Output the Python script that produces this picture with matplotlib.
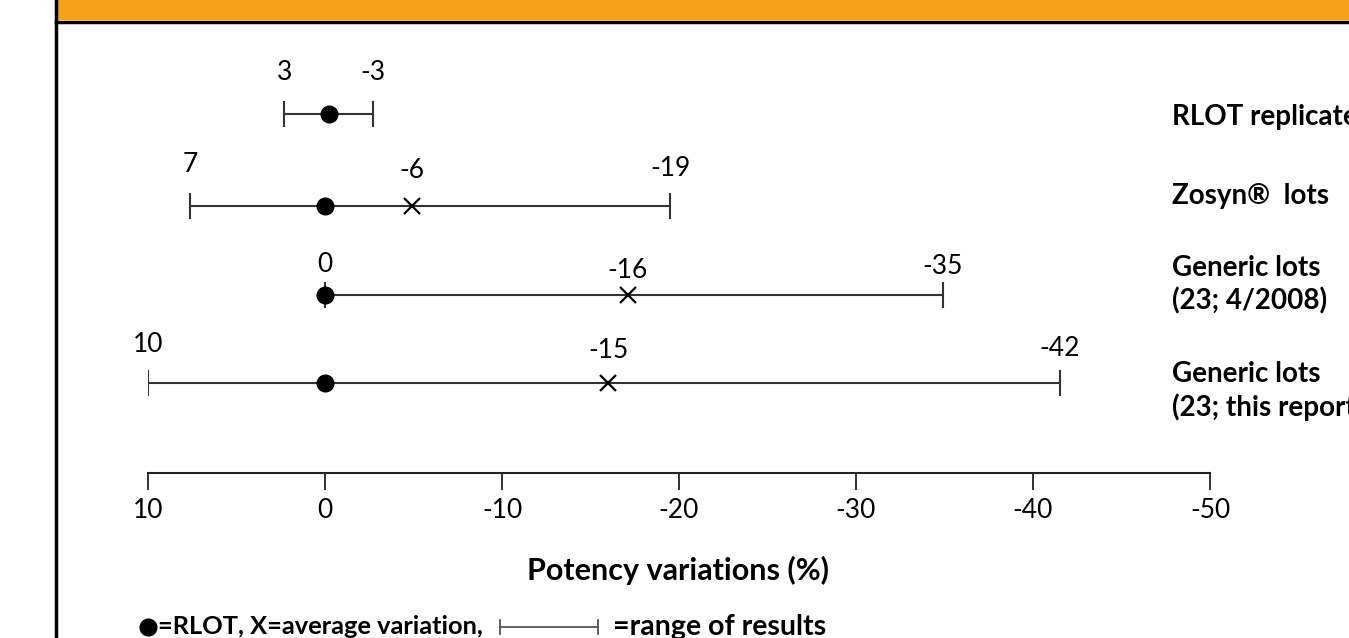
import matplotlib.pyplot as plt
from matplotlib.lines import Line2D
from matplotlib.patches import Rectangle

plt.rcParams['font.family'] = ['Lato', 'DejaVu Sans']

# values (drawn positions, % potency variation)
groups = ['RLOT replicates', 'Zosyn\u00ae  lots', 'Generic lots\n(23; 4/2008)', 'Generic lots\n(23; this report)']
low = [2.3, 7.6, 0.0, 10.0]
high = [-2.7, -19.5, -34.9, -41.5]
rlot = [-0.2, 0.0, 0.0, 0.0]
avg = [None, -4.9, -17.1, -16.0]
# printed numbers above each range
low_txt = ['3', '7', '0', '10']
avg_txt = [None, '-6', '-16', '-15']
high_txt = ['-3', '-19', '-35', '-42']
xticks = [10, 0, -10, -20, -30, -40, -50]

W, H = 1349, 638
fig = plt.figure(figsize=(W / 100, H / 100), dpi=100)

# frame: orange header band + black borders
fig.patches.append(Rectangle((57 / W, 1 - 20 / H), 1, 20 / H, transform=fig.transFigure,
                             facecolor='#F5A11A', edgecolor='none', zorder=0))
fig.lines.append(Line2D([56 / W, 1], [1 - 21.5 / H] * 2, transform=fig.transFigure, color='black', lw=2.5))
fig.lines.append(Line2D([56 / W] * 2, [0, 1], transform=fig.transFigure, color='black', lw=2.5))

# axes: x in data units, y in pixel rows (top = 22, axis line = 473)
ax = fig.add_axes([148 / W, 1 - 473 / H, (1210 - 148) / W, (473 - 22) / H])
ax.set_xlim(10, -50)
ax.set_ylim(473, 22)
ax.patch.set_alpha(0)
for s in ['top', 'right', 'left']:
    ax.spines[s].set_visible(False)
ax.spines['bottom'].set_linewidth(1.5)
ax.spines['bottom'].set_color('#222222')
ax.set_yticks([])
ax.set_xticks(xticks)
ax.set_xticklabels([str(t) for t in xticks], fontsize=19)
ax.tick_params(axis='x', direction='out', length=12, width=1.3, color='#222222', pad=6)
fig.text(678 / W, 1 - 570 / H, 'Potency variations (%)', fontsize=22, fontweight='bold',
         ha='center', va='center')

rows_y = [114, 206, 295, 383]
low_y = [73, 165, 265, 345]
avg_y = [None, 170, 271, 350]
high_y = [73, 168, 266, 348]
group_y = [117, 196, 285, 391]
for i, y in enumerate(rows_y):
    ax.plot([low[i], high[i]], [y, y], color='#333333', lw=1.5, zorder=2)
    for xe in (low[i], high[i]):
        ax.plot([xe, xe], [y - 12, y + 12], color='#333333', lw=1.5, zorder=2)
    ax.plot(rlot[i], y, 'o', color='black', ms=12, zorder=3)
    if avg[i] is not None:
        ax.plot(avg[i], y, 'x', color='black', ms=12, mew=1.6, zorder=3)
        ax.text(avg[i], avg_y[i], avg_txt[i], ha='center', va='center', fontsize=19)
    ax.text(low[i], low_y[i], low_txt[i], ha='center', va='center', fontsize=19)
    ax.text(high[i], high_y[i], high_txt[i], ha='center', va='center', fontsize=19)
    ax.text(1172 / W, 1 - group_y[i] / H, groups[i], transform=fig.transFigure, ha='left',
            va='center', fontsize=20, fontweight='bold', linespacing=1.3)

# legend line at the bottom
ly = 1 - 627 / H
fig.lines.append(Line2D([148 / W], [ly], transform=fig.transFigure, marker='o', color='black', ms=12))
fig.text(158 / W, ly, '=RLOT, X=average variation,', fontsize=18.3, fontweight='bold', va='center')
fig.lines.append(Line2D([500 / W, 598 / W], [ly, ly], transform=fig.transFigure, color='#555555', lw=1.3))
for xe in (500, 598):
    fig.lines.append(Line2D([xe / W] * 2, [ly - 7 / H, ly + 7 / H], transform=fig.transFigure,
                            color='#555555', lw=1.3))
fig.text(613 / W, ly, '=range of results', fontsize=20.5, fontweight='bold', va='center')

fig.savefig('out.png', dpi=100)
